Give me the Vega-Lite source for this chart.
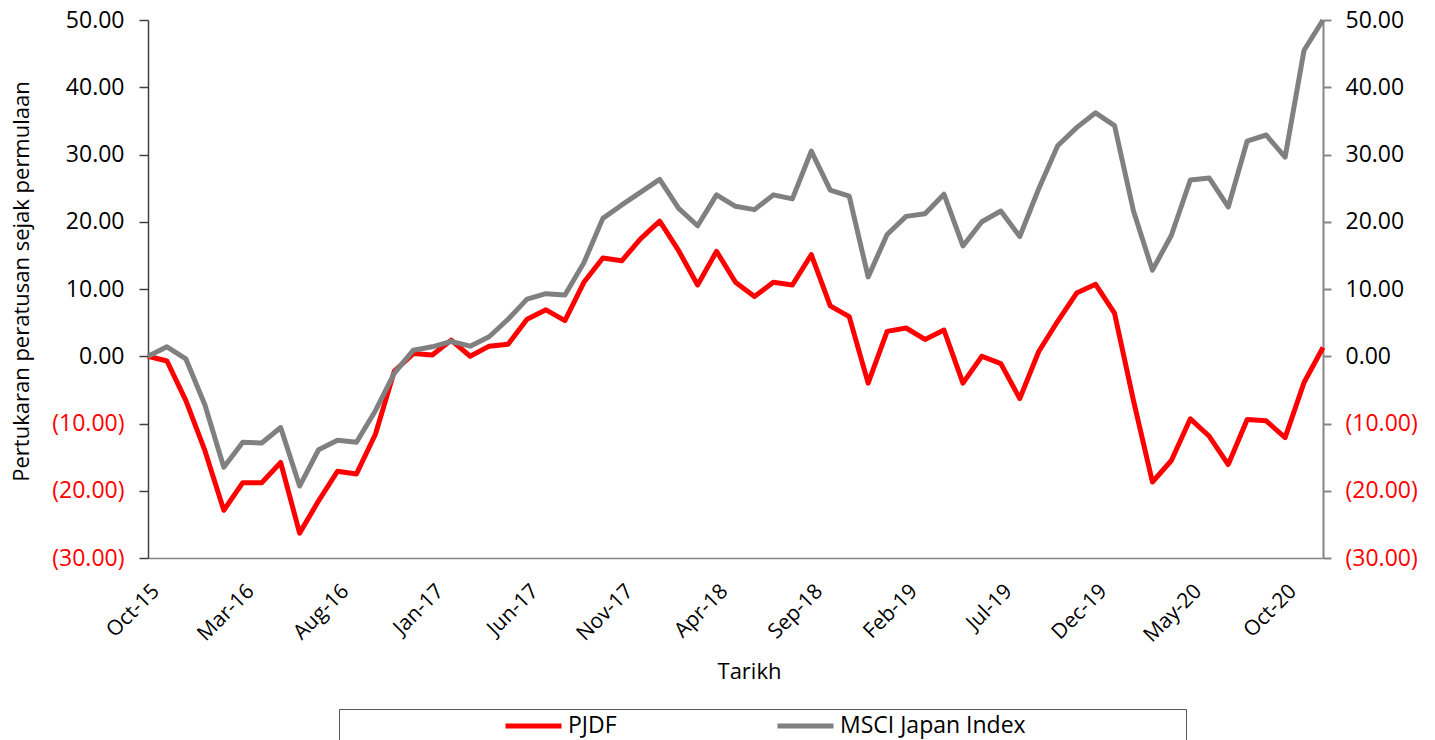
{
  "$schema": "https://vega.github.io/schema/vega-lite/v6.json",
  "width": 1175,
  "height": 538,
  "autosize": {"type": "none"},
  "padding": {"left": 148, "top": 20, "right": 112, "bottom": 182},
  "background": "white",
  "config": {"view": {"stroke": null}, "font": "Open Sans"},
  "data": {
    "values": [
      {"m": "Oct-15", "PJDF": 0.0, "MSCI": 0.0},
      {"m": "Nov-15", "PJDF": -0.7, "MSCI": 1.4},
      {"m": "Dec-15", "PJDF": -6.6, "MSCI": -0.4},
      {"m": "Jan-16", "PJDF": -14.0, "MSCI": -7.2},
      {"m": "Feb-16", "PJDF": -22.9, "MSCI": -16.5},
      {"m": "Mar-16", "PJDF": -18.8, "MSCI": -12.8},
      {"m": "Apr-16", "PJDF": -18.8, "MSCI": -12.9},
      {"m": "May-16", "PJDF": -15.8, "MSCI": -10.6},
      {"m": "Jun-16", "PJDF": -26.3, "MSCI": -19.3},
      {"m": "Jul-16", "PJDF": -21.5, "MSCI": -13.9},
      {"m": "Aug-16", "PJDF": -17.1, "MSCI": -12.5},
      {"m": "Sep-16", "PJDF": -17.5, "MSCI": -12.8},
      {"m": "Oct-16", "PJDF": -11.6, "MSCI": -8.1},
      {"m": "Nov-16", "PJDF": -2.2, "MSCI": -2.5},
      {"m": "Dec-16", "PJDF": 0.4, "MSCI": 0.9},
      {"m": "Jan-17", "PJDF": 0.2, "MSCI": 1.4},
      {"m": "Feb-17", "PJDF": 2.4, "MSCI": 2.2},
      {"m": "Mar-17", "PJDF": 0.0, "MSCI": 1.5},
      {"m": "Apr-17", "PJDF": 1.5, "MSCI": 2.9},
      {"m": "May-17", "PJDF": 1.8, "MSCI": 5.5},
      {"m": "Jun-17", "PJDF": 5.5, "MSCI": 8.5},
      {"m": "Jul-17", "PJDF": 6.9, "MSCI": 9.3},
      {"m": "Aug-17", "PJDF": 5.3, "MSCI": 9.1},
      {"m": "Sep-17", "PJDF": 11.0, "MSCI": 13.9},
      {"m": "Oct-17", "PJDF": 14.6, "MSCI": 20.5},
      {"m": "Nov-17", "PJDF": 14.2, "MSCI": 22.5},
      {"m": "Dec-17", "PJDF": 17.5, "MSCI": 24.4},
      {"m": "Jan-18", "PJDF": 20.1, "MSCI": 26.3},
      {"m": "Feb-18", "PJDF": 15.7, "MSCI": 22.0},
      {"m": "Mar-18", "PJDF": 10.6, "MSCI": 19.4},
      {"m": "Apr-18", "PJDF": 15.6, "MSCI": 24.0},
      {"m": "May-18", "PJDF": 11.0, "MSCI": 22.3},
      {"m": "Jun-18", "PJDF": 8.9, "MSCI": 21.8},
      {"m": "Jul-18", "PJDF": 11.0, "MSCI": 24.0},
      {"m": "Aug-18", "PJDF": 10.6, "MSCI": 23.4},
      {"m": "Sep-18", "PJDF": 15.1, "MSCI": 30.5},
      {"m": "Oct-18", "PJDF": 7.5, "MSCI": 24.7},
      {"m": "Nov-18", "PJDF": 5.9, "MSCI": 23.8},
      {"m": "Dec-18", "PJDF": -4.0, "MSCI": 11.8},
      {"m": "Jan-19", "PJDF": 3.7, "MSCI": 18.1},
      {"m": "Feb-19", "PJDF": 4.2, "MSCI": 20.8},
      {"m": "Mar-19", "PJDF": 2.5, "MSCI": 21.2},
      {"m": "Apr-19", "PJDF": 3.9, "MSCI": 24.1},
      {"m": "May-19", "PJDF": -4.0, "MSCI": 16.4},
      {"m": "Jun-19", "PJDF": 0.0, "MSCI": 20.0},
      {"m": "Jul-19", "PJDF": -1.1, "MSCI": 21.6},
      {"m": "Aug-19", "PJDF": -6.3, "MSCI": 17.8},
      {"m": "Sep-19", "PJDF": 0.7, "MSCI": 24.9},
      {"m": "Oct-19", "PJDF": 5.2, "MSCI": 31.3},
      {"m": "Nov-19", "PJDF": 9.4, "MSCI": 34.0},
      {"m": "Dec-19", "PJDF": 10.7, "MSCI": 36.2},
      {"m": "Jan-20", "PJDF": 6.4, "MSCI": 34.3},
      {"m": "Feb-20", "PJDF": -6.6, "MSCI": 21.6},
      {"m": "Mar-20", "PJDF": -18.7, "MSCI": 12.8},
      {"m": "Apr-20", "PJDF": -15.5, "MSCI": 18.0},
      {"m": "May-20", "PJDF": -9.3, "MSCI": 26.2},
      {"m": "Jun-20", "PJDF": -11.9, "MSCI": 26.5},
      {"m": "Jul-20", "PJDF": -16.1, "MSCI": 22.2},
      {"m": "Aug-20", "PJDF": -9.4, "MSCI": 32.0},
      {"m": "Sep-20", "PJDF": -9.6, "MSCI": 32.9},
      {"m": "Oct-20", "PJDF": -12.1, "MSCI": 29.6},
      {"m": "Nov-20", "PJDF": -3.9, "MSCI": 45.5},
      {"m": "Dec-20", "PJDF": 1.3, "MSCI": 50.0}
    ]
  },
  "encoding": {
    "x": {
      "field": "m",
      "type": "ordinal",
      "sort": null,
      "scale": {"type": "point", "padding": 0},
      "axis": {
        "title": "Tarikh",
        "titleFontSize": 22,
        "titleFontWeight": "normal",
        "titleColor": "#000000",
        "titlePadding": 16,
        "titleX": 601,
        "values": ["Oct-15", "Mar-16", "Aug-16", "Jan-17", "Jun-17", "Nov-17", "Apr-18", "Sep-18", "Feb-19", "Jul-19", "Dec-19", "May-20", "Oct-20"],
        "labelAngle": -45,
        "labelAlign": "right",
        "labelBaseline": "top",
        "labelPadding": 22,
        "labelFontSize": 21,
        "labelColor": "#000000",
        "labelOverlap": false,
        "ticks": false,
        "domainColor": "#868686",
        "domainWidth": 1.5,
        "grid": false
      }
    }
  },
  "layer": [
    {
      "mark": {"type": "line", "strokeWidth": 5, "strokeJoin": "round"},
      "encoding": {
        "y": {
          "field": "PJDF",
          "type": "quantitative",
          "scale": {"domain": [-30, 50], "nice": false, "zero": false},
          "axis": {
            "orient": "left",
            "title": "Pertukaran peratusan sejak permulaan",
            "titleFontSize": 22,
            "titleFontWeight": "normal",
            "titleColor": "#000000",
            "titlePadding": 18,
            "titleY": 261,
            "values": [-30, -20, -10, 0, 10, 20, 30, 40, 50],
            "labelExpr": "datum.value < 0 ? '(' + format(-datum.value, '.2f') + ')' : format(datum.value, '.2f')",
            "labelColor": {"condition": {"test": "datum.value < 0", "value": "#ff0000"}, "value": "#000000"},
            "labelFontSize": 23,
            "labelPadding": 15,
            "tickSize": 9,
            "tickColor": "#404040",
            "domainColor": "#404040",
            "domainWidth": 1.5,
            "tickWidth": 1.5,
            "grid": false
          }
        },
        "color": {
          "datum": "PJDF",
          "type": "nominal",
          "scale": {"domain": ["PJDF", "MSCI Japan Index"], "range": ["#ff0000", "#808080"]},
          "legend": {
            "title": null,
            "orient": "none",
            "legendX": 191,
            "legendY": 689,
            "direction": "horizontal",
            "strokeColor": "#595959",
            "padding": 7,
            "clipHeight": 20,
            "symbolType": "stroke",
            "symbolSize": 3136,
            "symbolStrokeWidth": 5,
            "symbolOffset": 157,
            "labelOffset": 4,
            "columnPadding": 1,
            "labelLimit": 600,
            "labelExpr": "datum.label == 'MSCI Japan Index' ? datum.label + '⠀⠀⠀⠀⠀⠀⠀⠀⠀' : datum.label",
            "labelFontSize": 23,
            "labelColor": "#000000"
          }
        }
      }
    },
    {
      "mark": {"type": "line", "strokeWidth": 5, "strokeJoin": "round"},
      "encoding": {
        "y": {
          "field": "MSCI",
          "type": "quantitative",
          "scale": {"domain": [-30, 50], "nice": false, "zero": false},
          "axis": {
            "orient": "right",
            "title": null,
            "values": [-30, -20, -10, 0, 10, 20, 30, 40, 50],
            "labelExpr": "datum.value < 0 ? '(' + format(-datum.value, '.2f') + ')' : format(datum.value, '.2f')",
            "labelColor": {"condition": {"test": "datum.value < 0", "value": "#ff0000"}, "value": "#000000"},
            "labelFontSize": 23,
            "labelPadding": 14,
            "tickSize": 8,
            "tickColor": "#868686",
            "domainColor": "#868686",
            "domainWidth": 2,
            "tickWidth": 2,
            "grid": false
          }
        },
        "color": {"datum": "MSCI Japan Index", "type": "nominal"}
      }
    }
  ],
  "resolve": {"scale": {"y": "independent"}}
}
